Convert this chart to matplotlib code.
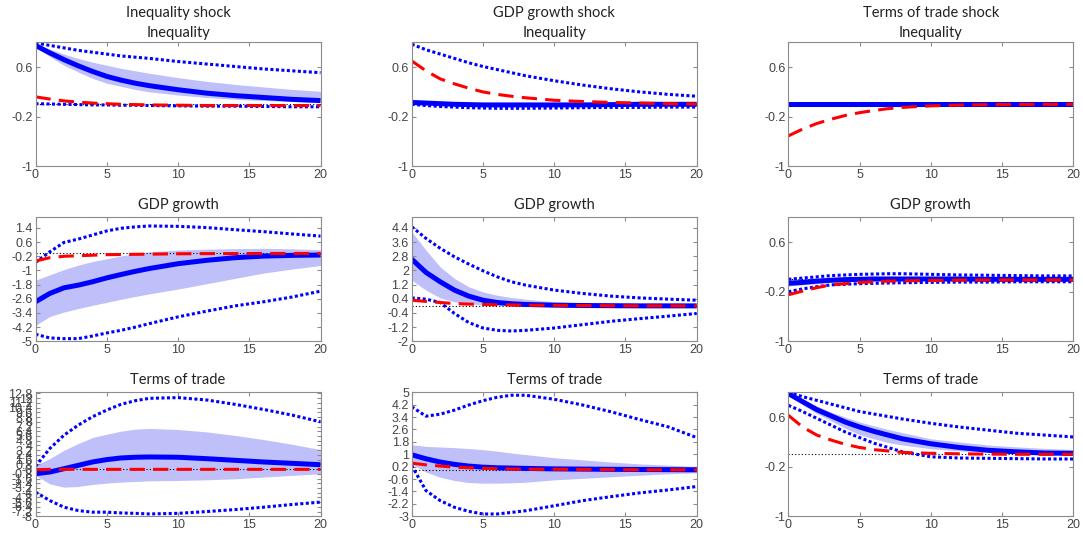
import numpy as np
import matplotlib
matplotlib.use("Agg")
import matplotlib.pyplot as plt

horizon = [0, 1, 2, 3, 4, 5, 6, 7, 8, 10, 12, 14, 16, 18, 20]

shocks = ["Inequality shock", "GDP growth shock", "Terms of trade shock"]
responses = ["Inequality", "GDP growth", "Terms of trade"]

# --- Inequality shock -> Inequality
ii_med = [0.95, 0.83, 0.72, 0.62, 0.53, 0.45, 0.39, 0.34, 0.30, 0.235, 0.18, 0.14, 0.11, 0.08, 0.06]
ii_hi68 = [0.97, 0.89, 0.81, 0.74, 0.68, 0.63, 0.58, 0.54, 0.50, 0.43, 0.37, 0.32, 0.28, 0.24, 0.21]
ii_lo68 = [0.93, 0.77, 0.63, 0.52, 0.42, 0.34, 0.29, 0.24, 0.20, 0.15, 0.11, 0.08, 0.06, 0.045, 0.035]
ii_hi90 = [0.99, 0.95, 0.91, 0.87, 0.84, 0.81, 0.78, 0.76, 0.74, 0.69, 0.65, 0.61, 0.57, 0.54, 0.51]
ii_lo90 = [0.01, 0.005, 0.0, -0.005, -0.01, -0.01, -0.015, -0.015, -0.02, -0.025, -0.03, -0.03, -0.035, -0.04, -0.04]
ii_alt = [0.12, 0.085, 0.055, 0.035, 0.02, 0.01, 0.0, -0.005, -0.01, -0.015, -0.02, -0.02, -0.02, -0.02, -0.02]

# --- GDP growth shock -> Inequality
gi_med = [0.03, 0.02, 0.01, 0.0, -0.005, -0.01, -0.01, -0.01, -0.01, -0.01, -0.01, -0.005, 0.0, 0.0, 0.0]
gi_hi68 = [0.05, 0.04, 0.035, 0.03, 0.025, 0.02, 0.02, 0.02, 0.02, 0.02, 0.02, 0.02, 0.02, 0.02, 0.02]
gi_lo68 = [0.01, 0.0, -0.01, -0.02, -0.025, -0.03, -0.03, -0.03, -0.03, -0.03, -0.025, -0.025, -0.02, -0.02, -0.02]
gi_hi90 = [0.97, 0.88, 0.81, 0.74, 0.67, 0.61, 0.56, 0.51, 0.46, 0.38, 0.31, 0.25, 0.20, 0.16, 0.13]
gi_lo90 = [0.0, -0.02, -0.035, -0.045, -0.055, -0.06, -0.065, -0.065, -0.065, -0.06, -0.055, -0.05, -0.05, -0.045, -0.045]
gi_alt = [0.70, 0.54, 0.41, 0.33, 0.26, 0.20, 0.16, 0.13, 0.105, 0.065, 0.045, 0.03, 0.02, 0.01, 0.005]

# --- Terms of trade shock -> Inequality
ti_med = [0.0, 0.0, 0.0, 0.0, 0.0, 0.0, 0.0, 0.0, 0.0, 0.0, 0.0, 0.0, 0.0, 0.0, 0.0]
ti_hi68 = [0.02, 0.02, 0.02, 0.02, 0.02, 0.02, 0.02, 0.02, 0.02, 0.02, 0.02, 0.02, 0.02, 0.02, 0.02]
ti_lo68 = [-0.02, -0.02, -0.02, -0.02, -0.02, -0.02, -0.02, -0.02, -0.02, -0.02, -0.02, -0.02, -0.02, -0.02, -0.02]
ti_hi90 = [0.012, 0.012, 0.012, 0.012, 0.012, 0.012, 0.012, 0.012, 0.012, 0.012, 0.012, 0.012, 0.012, 0.012, 0.012]
ti_lo90 = [-0.012, -0.012, -0.012, -0.012, -0.012, -0.012, -0.012, -0.012, -0.012, -0.012, -0.012, -0.012, -0.012, -0.012, -0.012]
ti_alt = [-0.51, -0.40, -0.31, -0.24, -0.18, -0.135, -0.10, -0.07, -0.05, -0.025, -0.012, -0.006, -0.003, -0.001, 0.0]

# --- Inequality shock -> GDP growth
ig_med = [-2.77, -2.3, -1.98, -1.83, -1.64, -1.42, -1.23, -1.05, -0.89, -0.62, -0.43, -0.28, -0.19, -0.15, -0.13]
ig_hi68 = [-1.55, -1.25, -0.95, -0.7, -0.5, -0.34, -0.18, -0.05, 0.05, 0.15, 0.2, 0.23, 0.25, 0.22, 0.17]
ig_lo68 = [-4.1, -3.6, -3.35, -3.15, -2.97, -2.8, -2.63, -2.47, -2.32, -2.05, -1.75, -1.45, -1.15, -0.92, -0.72]
ig_hi90 = [-0.55, 0.05, 0.58, 0.77, 1.0, 1.23, 1.38, 1.46, 1.51, 1.49, 1.42, 1.30, 1.19, 1.06, 0.94]
ig_lo90 = [-4.6, -4.81, -4.85, -4.85, -4.7, -4.53, -4.38, -4.2, -4.0, -3.62, -3.3, -3.0, -2.77, -2.5, -2.17]
ig_alt = [-0.47, -0.28, -0.2, -0.17, -0.14, -0.11, -0.1, -0.09, -0.08, -0.06, -0.05, -0.05, -0.04, -0.04, -0.04]

# --- GDP growth shock -> GDP growth
gg_med = [2.64, 1.89, 1.36, 0.89, 0.55, 0.32, 0.19, 0.12, 0.08, 0.04, 0.02, 0.01, 0.0, 0.0, 0.0]
gg_hi68 = [4.19, 3.15, 2.2, 1.55, 1.08, 0.79, 0.6, 0.47, 0.38, 0.23, 0.16, 0.11, 0.08, 0.06, 0.04]
gg_lo68 = [1.45, 0.89, 0.45, 0.23, 0.11, 0.06, 0.03, 0.01, 0.0, -0.01, -0.02, -0.02, -0.02, -0.02, -0.02]
gg_hi90 = [4.47, 3.81, 3.25, 2.77, 2.36, 1.98, 1.64, 1.36, 1.17, 0.89, 0.70, 0.55, 0.45, 0.38, 0.32]
gg_lo90 = [0.45, 0.38, 0.19, -0.43, -0.94, -1.25, -1.38, -1.42, -1.38, -1.25, -1.06, -0.87, -0.72, -0.58, -0.43]
gg_alt = [0.32, 0.25, 0.19, 0.13, 0.1, 0.08, 0.06, 0.05, 0.04, 0.03, 0.02, 0.01, 0.0, 0.0, 0.0]

# --- Terms of trade shock -> GDP growth
tg_med = [-0.065, -0.05, -0.03, -0.015, -0.005, 0.0, 0.005, 0.005, 0.005, 0.005, 0.005, 0.0, 0.0, 0.0, 0.0]
tg_hi68 = [0.0, 0.01, 0.02, 0.025, 0.03, 0.03, 0.03, 0.03, 0.03, 0.025, 0.025, 0.02, 0.02, 0.02, 0.02]
tg_lo68 = [-0.11, -0.09, -0.07, -0.05, -0.04, -0.03, -0.025, -0.025, -0.02, -0.02, -0.02, -0.02, -0.02, -0.02, -0.02]
tg_hi90 = [0.0, 0.02, 0.04, 0.06, 0.07, 0.08, 0.085, 0.09, 0.09, 0.08, 0.07, 0.065, 0.06, 0.055, 0.055]
tg_lo90 = [-0.2, -0.155, -0.12, -0.09, -0.08, -0.07, -0.065, -0.06, -0.055, -0.05, -0.045, -0.045, -0.04, -0.04, -0.04]
tg_alt = [-0.25, -0.19, -0.135, -0.09, -0.07, -0.05, -0.04, -0.03, -0.025, -0.02, -0.015, -0.01, -0.01, -0.01, -0.01]

# --- Inequality shock -> Terms of trade
it_med = [-0.79, -0.5, 0.06, 0.63, 1.2, 1.6, 1.88, 2.0, 2.05, 2.0, 1.76, 1.48, 1.2, 0.97, 0.74]
it_hi68 = [0.63, 1.76, 3.18, 4.32, 5.34, 5.9, 6.42, 6.76, 6.87, 6.7, 6.3, 5.7, 5.0, 4.2, 3.3]
it_lo68 = [-1.07, -2.5, -3.06, -2.95, -2.6, -2.38, -2.2, -2.1, -2.0, -1.93, -1.82, -1.65, -1.36, -1.07, -0.79]
it_hi90 = [0.46, 3.47, 5.74, 7.44, 8.86, 9.99, 10.96, 11.58, 11.98, 12.1, 11.7, 10.96, 10.1, 9.14, 8.0]
it_lo90 = [-3.9, -5.33, -6.46, -7.03, -7.3, -7.3, -7.43, -7.5, -7.6, -7.5, -7.2, -6.86, -6.46, -6.0, -5.6]
it_alt = [-0.1, -0.05, -0.05, -0.05, -0.05, -0.05, -0.05, -0.05, -0.05, -0.05, -0.05, -0.05, -0.05, -0.05, -0.05]

# --- GDP growth shock -> Terms of trade
gt_med = [0.97, 0.71, 0.5, 0.35, 0.24, 0.17, 0.13, 0.11, 0.09, 0.06, 0.045, 0.03, 0.02, 0.01, 0.0]
gt_hi68 = [1.62, 1.51, 1.47, 1.43, 1.37, 1.3, 1.2, 1.08, 0.98, 0.78, 0.64, 0.5, 0.38, 0.3, 0.22]
gt_lo68 = [0.39, -0.15, -0.48, -0.69, -0.82, -0.86, -0.86, -0.84, -0.8, -0.65, -0.55, -0.45, -0.35, -0.26, -0.19]
gt_hi90 = [4.07, 3.46, 3.59, 3.85, 4.18, 4.46, 4.68, 4.81, 4.81, 4.55, 4.18, 3.74, 3.24, 2.77, 2.08]
gt_lo90 = [0.28, -1.34, -1.99, -2.42, -2.68, -2.85, -2.85, -2.75, -2.64, -2.32, -1.99, -1.73, -1.49, -1.3, -1.08]
gt_alt = [0.43, 0.32, 0.24, 0.17, 0.13, 0.09, 0.07, 0.05, 0.04, 0.03, 0.02, 0.01, 0.0, 0.0, 0.0]

# --- Terms of trade shock -> Terms of trade
tt_med = [0.98, 0.85, 0.72, 0.62, 0.52, 0.44, 0.37, 0.31, 0.25, 0.17, 0.11, 0.065, 0.04, 0.02, 0.016]
tt_hi68 = [0.99, 0.88, 0.78, 0.68, 0.6, 0.52, 0.46, 0.4, 0.35, 0.25, 0.2, 0.15, 0.12, 0.095, 0.076]
tt_lo68 = [0.95, 0.80, 0.66, 0.54, 0.42, 0.32, 0.25, 0.19, 0.15, 0.09, 0.055, 0.035, 0.02, 0.012, 0.01]
tt_hi90 = [1.0, 0.93, 0.87, 0.81, 0.75, 0.69, 0.65, 0.61, 0.57, 0.5, 0.44, 0.39, 0.34, 0.31, 0.28]
tt_lo90 = [0.79, 0.69, 0.58, 0.47, 0.36, 0.27, 0.18, 0.11, 0.04, -0.04, -0.06, -0.065, -0.07, -0.075, -0.076]
tt_alt = [0.63, 0.44, 0.31, 0.23, 0.16, 0.11, 0.075, 0.054, 0.03, 0.016, 0.008, 0.003, 0.0, 0.0, 0.0]

# rows = response, cols = shock
panels = [
    [(ii_med, ii_hi68, ii_lo68, ii_hi90, ii_lo90, ii_alt),
     (gi_med, gi_hi68, gi_lo68, gi_hi90, gi_lo90, gi_alt),
     (ti_med, ti_hi68, ti_lo68, ti_hi90, ti_lo90, ti_alt)],
    [(ig_med, ig_hi68, ig_lo68, ig_hi90, ig_lo90, ig_alt),
     (gg_med, gg_hi68, gg_lo68, gg_hi90, gg_lo90, gg_alt),
     (tg_med, tg_hi68, tg_lo68, tg_hi90, tg_lo90, tg_alt)],
    [(it_med, it_hi68, it_lo68, it_hi90, it_lo90, it_alt),
     (gt_med, gt_hi68, gt_lo68, gt_hi90, gt_lo90, gt_alt),
     (tt_med, tt_hi68, tt_lo68, tt_hi90, tt_lo90, tt_alt)],
]

# y-axis limits (bottom, top) like the matlab output
ylims = [
    [(-1, 1), (-1, 1), (-1, 1)],
    [(-5, 2), (-2, 5), (-1, 1)],
    [(-8, 13), (-3, 5), (-1, 1)],
]

W, H = 1083, 541
fig = plt.figure(figsize=(W / 100, H / 100), dpi=100)

col_left = [35.5, 411.7, 788.3]
row_top = [42.3, 217.3, 392.3]
ax_w, ax_h = 285, 124

tick_font = "Liberation Sans"
title_font = ["Lato", "DejaVu Sans"]
band_col = "#bfbffa"
tick_col = "#444444"
box_col = "#8c8c8c"

for r in range(3):
    for c in range(3):
        left = col_left[c] / W
        bottom = 1 - (row_top[r] + ax_h) / H
        ax = fig.add_axes([left, bottom, ax_w / W, ax_h / H])
        med, hi68, lo68, hi90, lo90, alt = panels[r][c]
        ax.fill_between(horizon, lo68, hi68, color=band_col, lw=0)
        ax.plot([0, 20], [0, 0], color="black", ls=(0, (1, 2)), lw=0.8)
        ax.plot(horizon, med, color="#0000ff", lw=3.6, solid_capstyle="butt")
        ax.plot(horizon, hi90, color="#0000ff", lw=2.2, ls=(0, (1, 0.8)))
        ax.plot(horizon, lo90, color="#0000ff", lw=2.2, ls=(0, (1, 0.8)))
        ax.plot(horizon, alt, color="#ff0000", lw=2.2, ls=(0, (5, 2.7)))

        lo, hi = ylims[r][c]
        ax.set_xlim(0, 20)
        ax.set_ylim(lo, hi)
        ax.set_xticks([0, 5, 10, 15, 20])
        yt = np.round(np.arange(lo, hi + 1e-9, 0.8), 2)
        ax.set_yticks(yt)
        ax.set_yticklabels(["%g" % v for v in yt])
        ax.tick_params(direction="in", length=3, top=True, right=True,
                       labelsize=9, colors=box_col, labelcolor=tick_col, pad=2)
        for lab in ax.get_xticklabels() + ax.get_yticklabels():
            lab.set_family(tick_font)
        for sp in ax.spines.values():
            sp.set_color(box_col)
            sp.set_linewidth(0.8)

        ax.set_title(responses[r], fontsize=10.5, family=title_font,
                     color="#222222", pad=4 if r == 0 else 6)
        if r == 0:
            fig.text(left + ax_w / W / 2, 1 - 16.7 / H, shocks[c], ha="center",
                     va="baseline", fontsize=10.5, family=title_font, color="#222222")

fig.savefig("out.png", dpi=100)
